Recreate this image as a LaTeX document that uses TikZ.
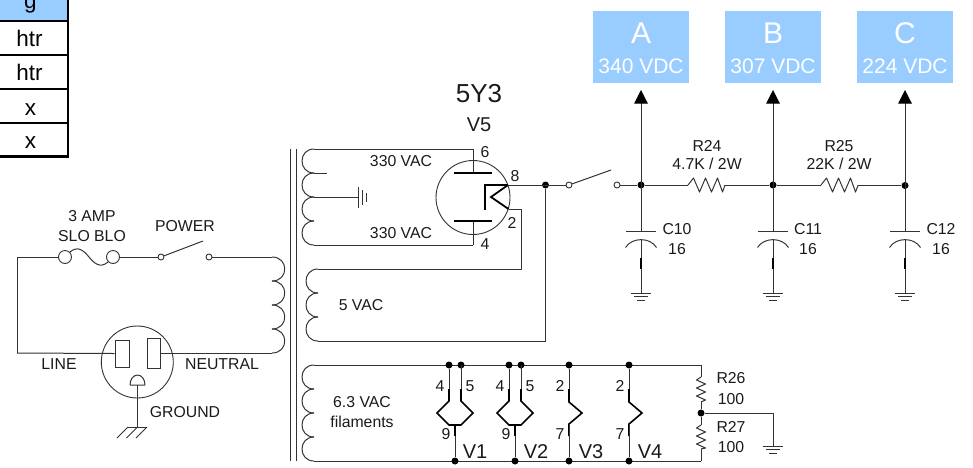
\documentclass[tikz,border=0pt]{standalone}
\usepackage{fontspec}
\setmainfont{Liberation Sans}
\usetikzlibrary{arrows.meta,calc}
\definecolor{wirec}{HTML}{333333}
\definecolor{skyb}{HTML}{99CCFF}
\definecolor{txtc}{HTML}{1A1A1A}
\tikzset{
  wire/.style={draw=wirec,line width=1pt,line join=round},
  heavy/.style={draw=black,line width=1.8pt,line join=miter},
  thin wire/.style={draw=wirec,line width=.9pt},
  lbl/.style={inner sep=0pt,text=txtc,text height=11.3pt,text depth=0pt,font=\fontsize{15.8}{18}\selectfont},
  lblv/.style={inner sep=0pt,text=txtc,text height=14.3pt,text depth=0pt,font=\fontsize{20}{24}\selectfont},
  lblb/.style={inner sep=0pt,text=txtc,text height=18.6pt,text depth=0pt,font=\fontsize{26}{30}\selectfont},
  rowtxt/.style={inner sep=0pt,anchor=base,text=black,font=\fontsize{22.5}{26}\selectfont},
  outbox/.style={fill=skyb,draw=none,minimum width=96pt,minimum height=72pt,inner sep=0pt},
  outa/.style={inner sep=0pt,text=white,text height=21.5pt,text depth=0pt,font=\fontsize{30}{34}\selectfont},
  outb/.style={inner sep=0pt,text=white,text height=15pt,text depth=0pt,font=\fontsize{21}{25}\selectfont},
  dot/.style={circle,fill=black,draw=none,inner sep=0pt,minimum size=7pt},
  contact/.style={circle,draw=wirec,fill=white,line width=.9pt,inner sep=0pt,minimum size=6pt},
  tip/.style={-{Triangle[width=13.5pt,length=13.5pt,color=black]}},
}
% left-bulging coil: #1 cusp x, #2 top y, #3 number of bumps
\newcommand{\coilleft}[3]{%
  \foreach \ci in {1,...,#3}{%
    \draw[wire] (#1,{#2+24*(\ci-1)}) .. controls ({#1-16},{#2+24*(\ci-1)}) and ({#1-16},{#2+24*\ci}) .. (#1,{#2+24*\ci});
  }}
\newcommand{\coilright}[3]{%
  \foreach \ci in {1,...,#3}{%
    \draw[wire] (#1,{#2+24*(\ci-1)}) .. controls ({#1+17},{#2+24*(\ci-1)}) and ({#1+17},{#2+24*\ci}) .. (#1,{#2+24*\ci});
  }}
% horizontal resistor between named coordinates
\newcommand{\resh}[2]{%
  \draw[wire] (#1) -- ++(5.5,-7) -- ++(6,14) -- ++(6,-14) -- ++(6,14) -- ++(6,-14) -- ++(5,14) -- (#2);}
% vertical resistor
\newcommand{\resv}[2]{%
  \draw[wire] (#1) -- ++(-4.5,3) -- ++(9,4) -- ++(-9,4) -- ++(9,4) -- ++(-9,4) -- ++(9,4) -- (#2);}
\newcommand{\gndsym}[1]{%
  \draw[wire] ($(#1)+(-10,0)$) -- ++(20,0);
  \draw[wire] ($(#1)+(-7,3.5)$) -- ++(14,0);
  \draw[wire] ($(#1)+(-4,7)$) -- ++(8,0);}
\begin{document}
\begin{tikzpicture}[x=1pt,y=-1pt]
\useasboundingbox (0,0) rectangle (973,467);
\clip (0,0) rectangle (973,467);
% ---------- table
\fill[skyb] (-5,-15) rectangle (68,21);
\draw[black,line width=2.6pt] (-5,21) -- (68,21) (-5,55) -- (68,55) (-5,89) -- (68,89) (-5,123) -- (68,123) (-5,156.5) -- (68,156.5);
\draw[black,line width=2.6pt] (68,-5) -- (68,157.8);
\node[rowtxt] (rg) at (30.5,8) {g};
\node[rowtxt] (rh1) at (29.5,46) {htr};
\node[rowtxt] (rh2) at (29.5,80) {htr};
\node[rowtxt] (rx1) at (30.5,115) {x};
\node[rowtxt] (rx2) at (30.5,148) {x};
% ---------- output boxes
\node[outbox] (boxA) at (641,47) {};
\node[outbox] (boxB) at (773,47) {};
\node[outbox] (boxC) at (905,47) {};
\node[outa] (tA) at (641,33) {A};
\node[outa] (tB) at (773,33) {B};
\node[outa] (tC) at (905,33) {C};
\node[outb] (vA) at (641,66) {340 VDC};
\node[outb] (vB) at (773,66) {307 VDC};
\node[outb] (vC) at (905,66) {224 VDC};
% ---------- mains loop
\coordinate (c1) at (17,257);
\coordinate (c2) at (17,353);
\coordinate (pT) at (272,257);
\coordinate (pB) at (272,353);
\node[contact,minimum size=13pt] (f1) at (65,257) {};
\node[contact,minimum size=13pt] (f2) at (113,257) {};
\draw[wire] (f1.north east) .. controls (78,245) and (84,251) .. (89,257) .. controls (94,263) and (100,269) .. (f2.south west);
\node[contact] (s1) at (161,257) {};
\node[contact] (s2) at (209,257) {};
\coordinate (blade1) at (203,241);
\draw[wire] (s1) -- (blade1);
\draw[wire] (f1) -- (c1) -- (c2);
\draw[wire] (f2) -- (s1);
\draw[wire] (s2) -- (pT);
\coilright{272}{257}{4}
% outlet
\node[circle,draw=wirec,line width=.9pt,inner sep=0pt,minimum size=72pt] (outlet) at (137.3,362) {};
\node[draw=wirec,line width=1pt,inner sep=0pt,minimum width=14pt,minimum height=27pt] (slotL) at (122,353.5) {};
\node[draw=wirec,line width=1pt,inner sep=0pt,minimum width=13pt,minimum height=30pt] (slotR) at (153.5,353) {};
\draw[wire] (c2) -- (slotL.west);
\draw[wire] (slotR.east) -- (pB);
\coordinate (dome) at (137.5,385);
\coordinate (earth) at (137.5,427);
\draw[wire] (130,385) -- (145,385) arc (0:-180:7.5 and 10);
\draw[wire] (dome) -- (earth);
\draw[thin wire] (128,427) -- (147,427);
\draw[thin wire] (128,427) -- ++(-11,11) (137.5,427) -- ++(-11,11) (147,427) -- ++(-11,11);
\node[lbl] (l3amp) at (92,216) {3 AMP};
\node[lbl] (lslo) at (92,236) {SLO BLO};
\node[lbl] (lpow) at (185,226) {POWER};
\node[lbl] (lline) at (59,364) {LINE};
\node[lbl] (lneu) at (222,364) {NEUTRAL};
\node[lbl] (lgnd) at (185,412) {GROUND};
% core
\draw[thin wire] (290.5,149) -- (290.5,461) (296.5,149) -- (296.5,461);
% ---------- high voltage secondary
\coilleft{314}{149}{4}
\coordinate (ht) at (473,149);
\coordinate (hb) at (473,245);
\coordinate (tap) at (358,197);
\coordinate (stub) at (327,173);
\draw[wire] (314,149) -- (ht);
\draw[wire] (314,245) -- (hb);
\draw[wire] (314,173) -- (stub);
\draw[wire] (314,197) -- (tap);
\draw[wire] (358,187) -- (358,208);
\draw[thin wire] (362,190) -- (362,205);
\draw[thin wire] (366,193) -- (366,202);
% tube
\node[circle,draw=wirec,line width=.9pt,inner sep=0pt,minimum size=74pt] (tube) at (473,197.5) {};
\coordinate (p1) at (473,173);
\coordinate (p2) at (473,221);
\draw[wire] (ht) -- (p1);
\draw[wire] (hb) -- (p2);
\draw[heavy,line width=1.6pt] (454,173) -- (492,173);
\draw[heavy,line width=1.6pt] (454,221) -- (492,221);
\coordinate (k8) at (508,185);
\coordinate (k2) at (508.5,209);
\draw[heavy] (k8) -- (485,185) -- (485,209.5);
\draw[heavy] (k8) -- (491,197) -- (k2);
\node[lbl] (n6) at (485,152) {6};
\node[lbl] (n8) at (515,176) {8};
\node[lbl] (n2) at (512,223) {2};
\node[lbl] (n4) at (485,244) {4};
\node[lbl] (l330a) at (401,161) {330 VAC};
\node[lbl] (l330b) at (401,233) {330 VAC};
\node[lblb] (l5y3) at (479,93) {5Y3};
\node[lblv] (lv5) at (479,124) {V5};
% ---------- 5V winding
\coilleft{318}{269}{3}
\coordinate (w5t) at (521,269);
\coordinate (w5b) at (545.5,341);
\draw[wire] (k2) -- (521,209) -- (w5t) -- (318,269);
\draw[wire] (318,341) -- (w5b);
\node[lbl] (l5v) at (361,305) {5 VAC};
% ---------- rectifier output
\node[dot] (j0) at (545.5,185) {};
\node[contact] (s3) at (569,185) {};
\node[contact] (s4) at (617,185) {};
\coordinate (blade2) at (611,170);
\draw[wire] (k8) -- (s3);
\draw[wire] (s3) -- (blade2);
\draw[wire] (j0) -- (w5b);
\node[dot] (j1) at (641,185) {};
\node[dot] (j2) at (773,185) {};
\node[dot] (j3) at (905,185.5) {};
\coordinate (r24a) at (688,185);
\coordinate (r24b) at (725,185);
\coordinate (r25a) at (821,185);
\coordinate (r25b) at (858,185.5);
\draw[wire] (s4) -- (j1) -- (r24a);
\resh{r24a}{r24b}
\draw[wire] (r24b) -- (j2) -- (r25a);
\resh{r25a}{r25b}
\draw[wire] (r25b) -- (j3);
\node[lbl] (lr24) at (707,146) {R24};
\node[lbl] (lr24v) at (707,164) {4.7K / 2W};
\node[lbl] (lr25) at (839,146) {R25};
\node[lbl] (lr25v) at (839,164) {22K / 2W};
\foreach \nm/\xx/\lb/\lx in {a/641/C10/677,b/773/C11/808,c/905/C12/941}{
  \coordinate (up\nm) at (\xx,90);
  \coordinate (pl\nm) at (\xx,231.5);
  \coordinate (cv\nm) at (\xx,239);
  \coordinate (gd\nm) at (\xx,293);
  \draw[wire,tip] (\xx,185) -- (up\nm);
  \draw[wire] (\xx,185) -- (pl\nm);
  \draw[wire] ({\xx-15},231.5) -- ({\xx+15},231.5);
  \draw[wire] ({\xx-15.5},247.5) .. controls ({\xx-9},237) and ({\xx+9},237) .. ({\xx+15.5},247.5);
  \draw[wire] (cv\nm) -- (gd\nm);
  \draw[line width=1.6pt,black] (\xx,258) -- (\xx,269);
  \draw[wire] ({\xx-10},293) -- ({\xx+10},293);
  \draw[wire] ({\xx-7},296.5) -- ({\xx+7},296.5);
  \draw[wire] ({\xx-4},300) -- ({\xx+4},300);
  \node[lbl] (lc\nm) at (\lx,229) {\lb};
  \node[lbl] (lv\nm) at (\lx,249) {16};
}
% ---------- filaments
\coilleft{314}{365}{4}
\coordinate (ft) at (701,365);
\coordinate (fb) at (701,461);
\draw[wire] (314,365) -- (ft);
\draw[wire] (314,461) -- (fb);
\node[dot] (a1) at (449,365) {};
\node[dot] (a2) at (461,365) {};
\node[dot] (a3) at (509,365) {};
\node[dot] (a4) at (521,365) {};
\node[dot] (a5) at (569,365) {};
\node[dot] (a6) at (629,365) {};
\node[dot] (b1) at (455,461) {};
\node[dot] (b2) at (515,461) {};
\node[dot] (b3) at (569,461) {};
\node[dot] (b4) at (629,461) {};
% double filaments
\foreach \aa/\ab/\bb/\xx in {a1/a2/b1/449,a3/a4/b2/509}{
  \draw[wire] (\aa) -- (\xx,401);
  \draw[wire] ({\xx+12},365) -- ({\xx+12},401);
  \draw[line width=1.6pt,black] (\xx,389) -- (\xx,401) -- ({\xx-12},413) -- (\xx,425) -- ({\xx+12},425) -- ({\xx+24},413) -- ({\xx+12},401) -- ({\xx+12},389);
  \draw[wire] ({\xx+6},425) -- (\bb);
  \draw[line width=1.6pt,black] ({\xx+6},425) -- ({\xx+6},436);
}
% single filaments
\foreach \aa/\bb/\xx in {a5/b3/569,a6/b4/629}{
  \draw[wire] (\aa) -- (\xx,402);
  \draw[line width=1.6pt,black] (\xx,389) -- (\xx,402) -- ({\xx+13},413) -- (\xx,424) -- (\xx,436);
  \draw[wire] (\xx,424) -- (\bb);
}
\node[lbl] (q1) at (440,386) {4};
\node[lbl] (q2) at (470,386) {5};
\node[lbl] (q3) at (446,434) {9};
\node[lblv] (q4) at (475,451) {V1};
\node[lbl] (q5) at (500,386) {4};
\node[lbl] (q6) at (530,386) {5};
\node[lbl] (q7) at (506,434) {9};
\node[lblv] (q8) at (536,451) {V2};
\node[lbl] (q9) at (560,386) {2};
\node[lbl] (q10) at (560,434) {7};
\node[lblv] (q11) at (591,451) {V3};
\node[lbl] (q12) at (620,386) {2};
\node[lbl] (q13) at (620,434) {7};
\node[lblv] (q14) at (650,451) {V4};
\node[lbl] (l63) at (362,402) {6.3 VAC};
\node[lbl] (lfil) at (362,422) {filaments};
% R26 R27
\node[dot] (jm) at (701,413) {};
\coordinate (r26a) at (701,377);
\coordinate (r26b) at (701,402);
\coordinate (r27a) at (701,425);
\coordinate (r27b) at (701,449);
\draw[wire] (ft) -- (r26a);
\resv{r26a}{r26b}
\draw[wire] (r26b) -- (jm) -- (r27a);
\resv{r27a}{r27b}
\draw[wire] (r27b) -- (fb);
\coordinate (g4) at (773,446);
\draw[wire] (jm) -- (773,413) -- (g4);
\gndsym{g4}
\node[lbl] (l26) at (731,378) {R26};
\node[lbl] (l26v) at (731,398.5) {100};
\node[lbl] (l27) at (731,427) {R27};
\node[lbl] (l27v) at (731,447) {100};
\end{tikzpicture}
\end{document}
